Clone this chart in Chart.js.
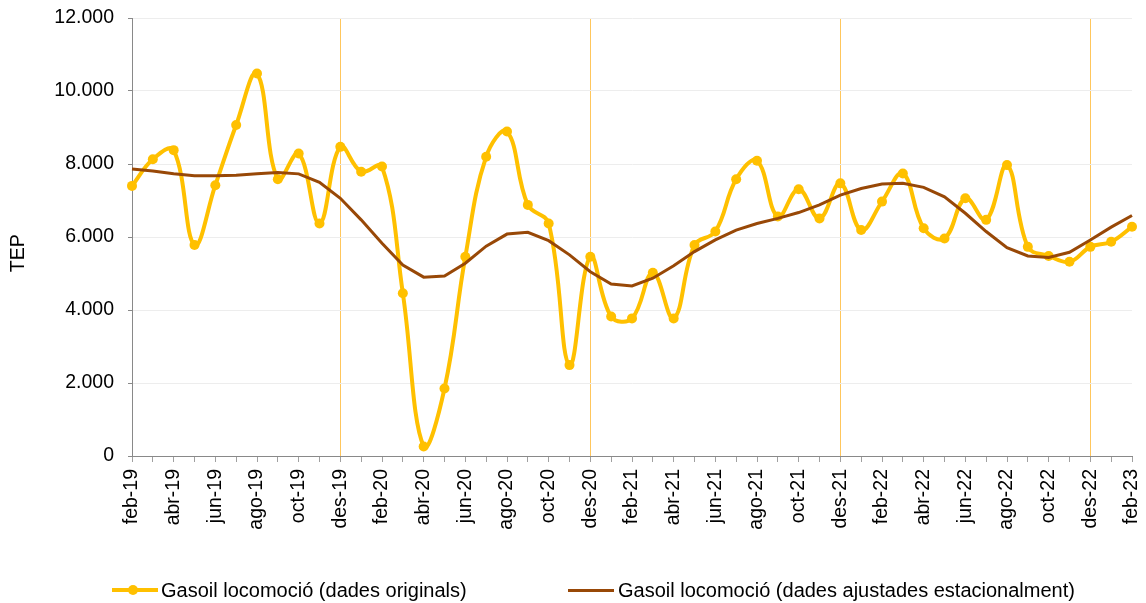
<!DOCTYPE html>
<html>
<head>
<meta charset="utf-8">
<script src="https://cdn.jsdelivr.net/npm/chart.js@4.4.1/dist/chart.umd.min.js"></script>
<style>
  html, body { margin: 0; padding: 0; background: #fff; }
  .wrap { position: relative; width: 1146px; height: 603px; }
  .legend { position: absolute; top: 578px; left: 0; width: 1146px; height: 24px;
            font-family: "Liberation Sans", Arial, sans-serif; font-size: 20px; color: #000; }
  .item { position: absolute; top: 0; height: 24px; line-height: 24px; white-space: nowrap; }
  .mark { position: absolute; top: 10px; height: 4px; width: 46px; }
  .dot { position: absolute; top: -3px; left: 16px; width: 10px; height: 10px; border-radius: 50%; }
</style>
</head>
<body>
<div class="wrap">
  <canvas id="chart" width="1146" height="603"></canvas>
  <div class="legend">
    <div class="item" style="left:112px">
      <span class="mark" style="left:0;background:#FFC000"><span class="dot" style="background:#FFC000"></span></span>
      <span style="position:absolute;left:49px">Gasoil locomoció (dades originals)</span>
    </div>
    <div class="item" style="left:568px">
      <span class="mark" style="left:0;height:3px;top:11px;background:#984807"></span>
      <span style="position:absolute;left:50px">Gasoil locomoció (dades ajustades estacionalment)</span>
    </div>
  </div>
</div>
<script>
const months = [
  'feb-19', 'mar-19', 'abr-19', 'mai-19', 'jun-19', 'jul-19', 'ago-19', 'set-19', 'oct-19', 'nov-19', 'des-19',
  'gen-20', 'feb-20', 'mar-20', 'abr-20', 'mai-20', 'jun-20', 'jul-20', 'ago-20', 'set-20', 'oct-20', 'nov-20', 'des-20',
  'gen-21', 'feb-21', 'mar-21', 'abr-21', 'mai-21', 'jun-21', 'jul-21', 'ago-21', 'set-21', 'oct-21', 'nov-21', 'des-21',
  'gen-22', 'feb-22', 'mar-22', 'abr-22', 'mai-22', 'jun-22', 'jul-22', 'ago-22', 'set-22', 'oct-22', 'nov-22', 'des-22',
  'gen-23', 'feb-23'
];

// TEP, dades originals
const original = [
  7400, 8130, 8380, 5780, 7420, 9070, 10480, 7580, 8290, 6370, 8470,
  7790, 7930, 4460, 260, 1850, 5460, 8200, 8890, 6880, 6370, 2490, 5460,
  3820, 3770, 5020, 3770, 5780, 6150, 7580, 8090, 6560, 7310, 6510, 7470,
  6190, 6970, 7740, 6240, 5960, 7060, 6470, 7970, 5730, 5480, 5320, 5730,
  5870, 6280
];

// TEP, dades ajustades estacionalment
const adjusted = [
  7860, 7810, 7730, 7680, 7680, 7690, 7730, 7770, 7730, 7500, 7060,
  6470, 5830, 5230, 4900, 4930, 5280, 5750, 6080, 6130, 5900, 5510, 5050,
  4710, 4660, 4870, 5210, 5600, 5920, 6190, 6370, 6510, 6670, 6880, 7150,
  7330, 7450, 7470, 7360, 7100, 6650, 6150, 5710, 5480, 5440, 5580, 5920,
  6270, 6590
];

const yTicks = [0, 2000, 4000, 6000, 8000, 10000, 12000];

const fmt = v => String(v).replace(/\B(?=(\d{3})+(?!\d))/g, '.');
const font = { family: '"Liberation Sans", Arial, sans-serif', size: 19.5 };

new Chart(document.getElementById('chart'), {
  type: 'line',
  data: {
    labels: months,
    datasets: [
      {
        label: 'Gasoil locomoció (dades originals)',
        data: original,
        borderColor: '#FFC000',
        backgroundColor: '#FFC000',
        borderWidth: 4,
        pointRadius: 5,
        pointBorderWidth: 0,
        tension: 0.4,
        order: 2
      },
      {
        label: 'Gasoil locomoció (dades ajustades estacionalment)',
        data: adjusted,
        borderColor: '#984807',
        backgroundColor: '#984807',
        borderWidth: 3,
        pointRadius: 0,
        tension: 0,
        order: 1
      }
    ]
  },
  options: {
    responsive: false,
    animation: false,
    layout: { padding: { top: 18, right: 14, bottom: 57, left: 0 } },
    plugins: { legend: { display: false }, tooltip: { enabled: false } },
    scales: {
      x: {
        offset: false,
        border: { color: '#898989' },
        grid: {
          color: c => (months[c.index] || '').startsWith('des') ? '#FFC65C' : 'rgba(0,0,0,0)',
          tickColor: '#A0A0A0',
          tickLength: 6
        },
        ticks: {
          autoSkip: false,
          minRotation: 90,
          maxRotation: 90,
          padding: 7,
          color: '#000',
          font: font,
          callback: (v, i) => i % 2 === 0 ? months[i] : ''
        },
        afterFit: s => { s.height = 90; s.paddingLeft = 0; s.paddingRight = 0; }
      },
      y: {
        min: 0,
        max: 12000,
        border: { color: '#898989' },
        grid: { color: '#EDEDED', tickColor: '#898989', tickLength: 4 },
        afterBuildTicks: s => { s.ticks = yTicks.map(v => ({ value: v })); },
        ticks: { color: '#000', font: font, padding: 14, callback: v => fmt(v) },
        title: { display: true, text: 'TEP      ', color: '#000', font: font, padding: { top: 7, bottom: 0 } },
        afterFit: s => { s.width = 132; s.paddingTop = 0; s.paddingBottom = 0; }
      }
    }
  }
});
</script>
</body>
</html>
